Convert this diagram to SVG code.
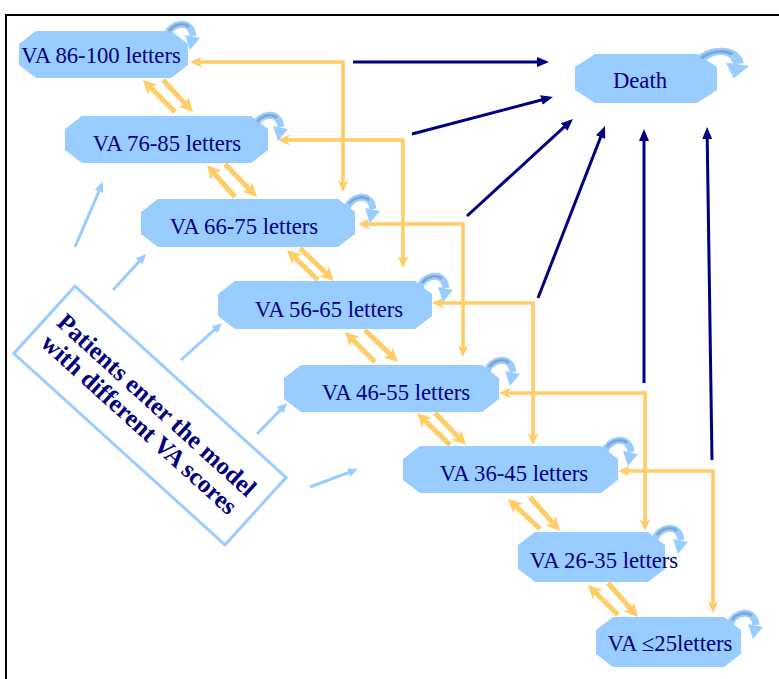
<svg xmlns="http://www.w3.org/2000/svg" xmlns:xlink="http://www.w3.org/1999/xlink" width="779" height="679" viewBox="0 0 779 679">
  <style>
    .node { fill: #99CCFF; }
    .label { font-family: "Liberation Serif", "Times New Roman", serif; font-size: 22.7px; fill: #000080; text-anchor: middle; }
    .jump { fill: none; stroke: #FFCC66; stroke-width: 3.5; marker-start: url(#headOrange); marker-end: url(#headOrange); }
    .step { fill: none; stroke: #FFCC66; stroke-width: 5; marker-end: url(#headOrangeBig); }
    .death { fill: none; stroke: #000080; stroke-width: 3; marker-end: url(#headNavy); }
    .entry { fill: none; stroke: #99CCFF; stroke-width: 3; marker-end: url(#headBlue); }
    .entry-text { font-family: "Liberation Serif", "Times New Roman", serif; font-size: 25px; font-weight: bold; fill: #000080; text-anchor: middle; }
  </style>
  <defs>
    <marker id="headOrange" markerUnits="userSpaceOnUse" viewBox="0 0 12 11" markerWidth="12" markerHeight="11" refX="7.5" refY="5.5" orient="auto-start-reverse">
      <path d="M0,0 L12,5.5 L0,11 L3.5,5.5 z" fill="#FFCC66"/>
    </marker>
    <marker id="headOrangeBig" markerUnits="userSpaceOnUse" viewBox="0 0 14 14" markerWidth="14" markerHeight="14" refX="9" refY="7" orient="auto">
      <path d="M0,0 L14,7 L0,14 L4,7 z" fill="#FFCC66"/>
    </marker>
    <marker id="headNavy" markerUnits="userSpaceOnUse" viewBox="0 0 12 10" markerWidth="12" markerHeight="10" refX="8" refY="5" orient="auto">
      <path d="M0,0 L12,5 L0,10 z" fill="#000080"/>
    </marker>
    <marker id="headBlue" markerUnits="userSpaceOnUse" viewBox="0 0 10 9" markerWidth="10" markerHeight="9" refX="6" refY="4.5" orient="auto">
      <path d="M0,0 L10,4.5 L0,9 z" fill="#99CCFF"/>
    </marker>
    <!-- curved "stay in state" arrow drawn at a node's top-right corner -->
    <g id="loop">
      <path d="M2,14 C6,2 26,-3 28,15" fill="none" stroke="#99CCFF" stroke-width="7"/>
      <path d="M4,10 C9,3 19,1 24,6" fill="none" stroke="#7FA6CE" stroke-width="2.5"/>
      <path d="M20,14 L35,17 L25,29 z" fill="#99CCFF"/>
    </g>
  </defs>

  <!-- frame -->
  <rect x="6" y="15" width="800" height="700" fill="#FFFFFF" stroke="#000000" stroke-width="2"/>

  <!-- connectors -->
  <g id="connectors">
    <!-- two-level jumps -->
    <path class="jump" d="M194.5,62 H343 V187.5"/>
    <path class="jump" d="M282.5,140 H403 V263.5"/>
    <path class="jump" d="M362.5,224 H463 V352.5"/>
    <path class="jump" d="M436.5,303 H533 V440.5"/>
    <path class="jump" d="M503.5,393 H645 V526.5"/>
    <path class="jump" d="M622.5,471 H713 V608.5"/>

    <!-- one-level steps up and down -->
    <path class="step" d="M175,112 L146.5,83.5"/>
    <path class="step" d="M163,80 L189.6,108.4"/>
    <path class="step" d="M235,197 L210.3,168.8"/>
    <path class="step" d="M225,164 L253.5,193.4"/>
    <path class="step" d="M318,280 L290.6,253.5"/>
    <path class="step" d="M300,248 L330.4,277.5"/>
    <path class="step" d="M375,362 L348.5,335.5"/>
    <path class="step" d="M365,330 L394.4,358.5"/>
    <path class="step" d="M450,445 L420.6,416.5"/>
    <path class="step" d="M435,413 L462.5,441.4"/>
    <path class="step" d="M540,529 L511.6,502.4"/>
    <path class="step" d="M530,497 L556.7,527.3"/>
    <path class="step" d="M618,615 L591.5,588.5"/>
    <path class="step" d="M608,583 L634.7,613.3"/>

    <!-- transitions to death -->
    <path class="death" d="M353,62 L545,62"/>
    <path class="death" d="M412,134 L549.1,98"/>
    <path class="death" d="M467,216 L570,121.7"/>
    <path class="death" d="M538,298 L603.5,129.7"/>
    <path class="death" d="M644,383 L644,133"/>
    <path class="death" d="M712,460 L707.1,131"/>

    <!-- entry into the model -->
    <path class="entry" d="M75,247 L101.4,185.7"/>
    <path class="entry" d="M113,290 L143.3,257"/>
    <path class="entry" d="M181,360 L219,325.7"/>
    <path class="entry" d="M257,434 L284.2,405.9"/>
    <path class="entry" d="M310,487 L354.3,470.4"/>
  </g>

  <!-- entry note -->
  <g id="entry" transform="translate(150,415.5) rotate(42.2)">
    <rect x="-142.5" y="-45.5" width="285" height="91" fill="#FFFFFF" stroke="#99CCFF" stroke-width="3"/>
    <text class="entry-text" x="-2" y="-4">Patients enter the model</text>
    <text class="entry-text" x="-2" y="22">with different VA scores</text>
  </g>

  <!-- states -->
  <g id="va86">
    <polygon class="node" points="36,31 171,31 188,44 188,65 171,78 36,78 19,65 19,44"/>
    <text class="label" x="101" y="63">VA 86-100 letters</text>
    <use href="#loop" x="165" y="21"/>
  </g>
  <g id="va76">
    <polygon class="node" points="82,116 251,116 268,129 268,150 251,163 82,163 65,150 65,129"/>
    <text class="label" x="167" y="151">VA 76-85 letters</text>
    <use href="#loop" x="253" y="112"/>
  </g>
  <g id="va66">
    <polygon class="node" points="158,199 338,199 355,212 355,234 338,247 158,247 141,234 141,212"/>
    <text class="label" x="244" y="234">VA 66-75 letters</text>
    <use href="#loop" x="345" y="194"/>
  </g>
  <g id="va56">
    <polygon class="node" points="235,281 415,281 432,294 432,316 415,329 235,329 218,316 218,294"/>
    <text class="label" x="329" y="317">VA 56-65 letters</text>
    <use href="#loop" x="418" y="273"/>
  </g>
  <g id="va46">
    <polygon class="node" points="301,365 482,365 499,378 499,399 482,412 301,412 284,399 284,378"/>
    <text class="label" x="396" y="400">VA 46-55 letters</text>
    <use href="#loop" x="485" y="357"/>
  </g>
  <g id="va36">
    <polygon class="node" points="420,446 601,446 618,459 618,480 601,493 420,493 403,480 403,459"/>
    <text class="label" x="514" y="481">VA 36-45 letters</text>
    <use href="#loop" x="603" y="437"/>
  </g>
  <g id="va26">
    <polygon class="node" points="535,532 648,532 665,545 665,569 648,582 535,582 518,569 518,545"/>
    <text class="label" x="604" y="568">VA 26-35 letters</text>
    <use href="#loop" x="653" y="525"/>
  </g>
  <g id="va25">
    <polygon class="node" points="613,617 724,617 741,630 741,654 724,667 613,667 596,654 596,630"/>
    <text class="label" x="670" y="651">VA ≤25letters</text>
    <use href="#loop" x="728" y="610"/>
  </g>
  <g id="death">
    <polygon class="node" points="595,54 697,54 717,67 717,90 697,103 595,103 575,90 575,67"/>
    <text class="label" x="640" y="88">Death</text>
    <use href="#loop" transform="translate(695,48) scale(1.55,1.05)"/>
  </g>
</svg>
